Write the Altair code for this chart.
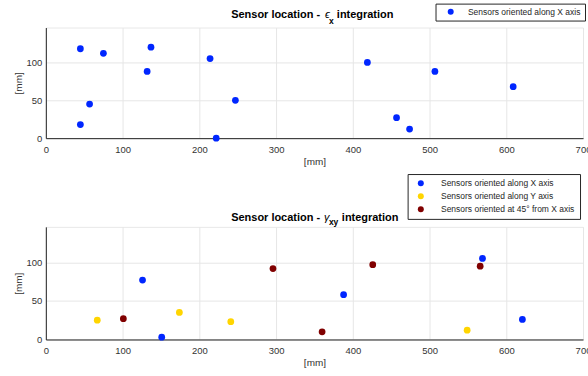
import altair as alt
import pandas as pd

# Sensor positions for the epsilon_x integration (all oriented along X)
ex_x = [45, 75, 137, 132, 214, 57, 45, 247, 222, 419, 507, 609, 457, 474]
ex_y = [118, 112, 120, 88, 105, 45, 18, 50, 0, 100, 88, 68, 27, 12]

# Sensor positions for the gamma_xy integration, by orientation
gx_x = [126, 151, 388, 569, 621]
gx_y = [77, 3, 58, 105, 26]
gy_x = [67, 174, 241, 549]
gy_y = [25, 35, 23, 12]
g45_x = [101, 296, 426, 360, 566]
g45_y = [27, 92, 97, 10, 95]

LAB_X = "Sensors oriented along X axis"
LAB_Y = "Sensors oriented along Y axis"
LAB_45 = "Sensors oriented at 45° from X axis"
orient_labels = [LAB_X, LAB_Y, LAB_45]
orient_colors = ["#0026ff", "#ffd500", "#800000"]

x_ticks = [0, 100, 200, 300, 400, 500, 600, 700]
y_ticks = [0, 50, 100]

FONT = "Liberation Sans"
TXT = "#333333"

df_ex = pd.DataFrame({"x": ex_x, "y": ex_y, "orientation": LAB_X, "order": 0})
df_g = pd.concat([
    pd.DataFrame({"x": gx_x, "y": gx_y, "orientation": LAB_X, "order": 0}),
    pd.DataFrame({"x": gy_x, "y": gy_y, "orientation": LAB_Y, "order": 1}),
    pd.DataFrame({"x": g45_x, "y": g45_y, "orientation": LAB_45, "order": 2}),
], ignore_index=True)


def x_enc():
    return alt.X("x:Q", scale=alt.Scale(domain=[0, 700], nice=False),
                 axis=alt.Axis(values=x_ticks, title="[mm]", titlePadding=3,
                               labelPadding=6, tickSize=0, labelFlush=False))


def y_enc():
    return alt.Y("y:Q", scale=alt.Scale(domain=[0, 146], nice=False),
                 axis=alt.Axis(values=y_ticks, title="[mm]", titlePadding=3,
                               labelPadding=4, tickSize=0))


def title_parts(symbol, sub, sym_x, sub_x, int_x, base_y, sub_y):
    """Bold title with a Greek symbol and a subscript, as text marks."""
    parts = [
        ("Sensor location -", 186, base_y, 11, "bold", "normal"),
        (symbol, sym_x, base_y, 11, "normal", "italic"),
        (sub, sub_x, sub_y, 8.5, "bold", "normal"),
        ("integration", int_x, base_y, 11, "bold", "normal"),
    ]
    layers = []
    for txt, px, py, fs, fw, st in parts:
        layers.append(
            alt.Chart(pd.DataFrame({"t": [txt]}))
            .mark_text(align="left", baseline="alphabetic", fontSize=fs,
                       fontWeight=fw, fontStyle=st, font=FONT, color="#000000")
            .encode(x=alt.value(px), y=alt.value(py), text="t:N")
        )
    return layers


def legend(lx, ly, pad, sym_off, lab_off):
    return alt.Legend(title=None, orient="none", legendX=lx, legendY=ly,
                      fillColor="#ffffff", strokeColor="#262626",
                      padding=pad, symbolOffset=sym_off, labelOffset=lab_off,
                      symbolSize=36, symbolType="circle", symbolStrokeWidth=0,
                      labelFontSize=8.5, labelColor="#262626", labelFont=FONT,
                      rowPadding=4, labelLimit=300)


pts_ex = alt.Chart(df_ex).mark_circle(size=46, opacity=1).encode(
    x=x_enc(), y=y_enc(),
    color=alt.Color("orientation:N",
                    scale=alt.Scale(domain=[LAB_X], range=[orient_colors[0]]),
                    legend=legend(391, -24, 4, 7, 13)),
)

pts_g = alt.Chart(df_g).mark_circle(size=46, opacity=1).encode(
    x=x_enc(), y=y_enc(),
    color=alt.Color("orientation:N",
                    scale=alt.Scale(domain=orient_labels, range=orient_colors),
                    legend=legend(363, -53, 5, 4, 16)),
    order="order:Q",
)

top = alt.layer(pts_ex, *title_parts("ϵ", "x", 280, 284, 292, -9.5, -4)).properties(
    width=539, height=111)
bottom = alt.layer(pts_g, *title_parts("γ", "xy", 279, 284, 297, -6, -1.5)).properties(
    width=539, height=113)

chart = (
    alt.vconcat(top, bottom, spacing=6)
    .resolve_scale(color="independent")
    .resolve_legend(color="independent")
    .properties(padding={"left": 12, "top": 2, "right": -4, "bottom": 0})
    .configure(font=FONT)
    .configure_view(stroke="#e8e8e8", strokeWidth=1)
    .configure_axis(labelFont=FONT, labelFontSize=9.5, labelColor=TXT,
                    titleFont=FONT, titleFontSize=10, titleFontWeight="normal",
                    titleColor=TXT, domainColor="#262626", domainWidth=1,
                    gridColor="#e6e6e6", gridWidth=1)
)

chart.save("out.html", embed_options={"renderer": "svg", "actions": False})
